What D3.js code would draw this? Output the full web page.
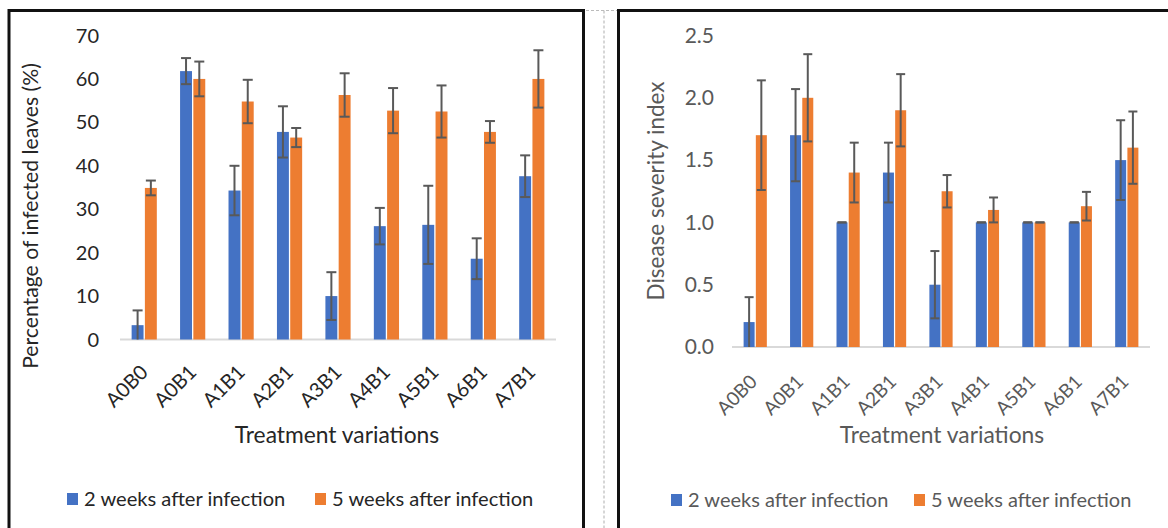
<!DOCTYPE html>
<html><head><meta charset="utf-8">
<script src="https://cdn.jsdelivr.net/npm/d3@7"></script>
<style>body{margin:0;background:#fff}svg{display:block}</style>
</head><body>
<svg id="c" width="1168" height="528"></svg>
<script>
const categories = ["A0B0","A0B1","A1B1","A2B1","A3B1","A4B1","A5B1","A6B1","A7B1"];
const seriesNames = ["2 weeks after infection","5 weeks after infection"];
const colors = ["#4472C4","#ED7D31"];
// Left chart: percentage of infected leaves (%)
const leftWeek2 = [3.3, 61.8, 34.3, 47.8, 10.0, 26.1, 26.4, 18.6, 37.6];
const leftWeek2Err = [3.4, 3.0, 5.7, 5.9, 5.5, 4.2, 9.0, 4.7, 4.8];
const leftWeek5 = [34.9, 60.0, 54.8, 46.5, 56.3, 52.7, 52.5, 47.8, 60.0];
const leftWeek5Err = [1.7, 4.0, 5.0, 2.2, 5.0, 5.2, 6.0, 2.5, 6.6];
const leftTicks = [0,10,20,30,40,50,60,70];
// Right chart: disease severity index
const rightWeek2 = [0.2, 1.7, 1.0, 1.4, 0.5, 1.0, 1.0, 1.0, 1.5];
const rightWeek2Err = [0.2, 0.37, 0, 0.24, 0.27, 0, 0, 0, 0.32];
const rightWeek5 = [1.7, 2.0, 1.4, 1.9, 1.25, 1.1, 1.0, 1.13, 1.6];
const rightWeek5Err = [0.44, 0.35, 0.24, 0.29, 0.13, 0.1, 0, 0.115, 0.29];
const rightTicks = [0,0.5,1.0,1.5,2.0,2.5];

const svg = d3.select("#c");
const FONT = "Lato, 'Open Sans', sans-serif";

// panel frames
svg.append("path").attr("d","M586,10.5H617M604,10.5V528").attr("stroke","#bbb").attr("stroke-width",1.2)
  .attr("stroke-dasharray","3,2").attr("fill","none");
svg.append("path").attr("d","M9,540V10.5H583.5V540").attr("stroke","#111").attr("stroke-width",3).attr("fill","none");
svg.append("path").attr("d","M618.5,540V10.5H1175").attr("stroke","#111").attr("stroke-width",3).attr("fill","none");

function drawChart(o){
  const g = svg.append("g");
  const x0 = d3.scaleBand().domain(categories).range(o.xr).paddingInner(o.pad).paddingOuter(o.pad/2);
  const x1 = d3.scaleBand().domain([0,1]).range([0,x0.bandwidth()]).paddingInner(0.1);
  const y = d3.scaleLinear().domain(o.yd).range(o.yr);
  const data = [o.s1, o.s2], errs = [o.e1, o.e2];
  // y tick labels
  g.selectAll(".yt").data(o.ticks).join("text")
    .attr("x", o.ytx).attr("y", d=>y(d)).attr("dy","0.35em")
    .attr("text-anchor","end").attr("font-family",FONT).attr("font-size",o.yfs)
    .attr("fill",o.tc).text(d=>o.fmt(d));
  // baseline
  g.append("line").attr("x1",o.xr[0]).attr("x2",o.xr[1]).attr("y1",y(0)).attr("y2",y(0))
    .attr("stroke","#d9d9d9").attr("stroke-width",2);
  // bars
  [0,1].forEach(si=>{
    g.selectAll(".b"+si).data(categories).join("rect")
      .attr("x",(c)=>x0(c)+x1(si)).attr("width",x1.bandwidth())
      .attr("y",(c,i)=>y(data[si][i])).attr("height",(c,i)=>y(0)-y(data[si][i]))
      .attr("fill",colors[si]);
  });
  // error bars
  [0,1].forEach(si=>{
    categories.forEach((c,i)=>{
      const cx = x0(c)+x1(si)+x1.bandwidth()/2;
      const v = data[si][i], e = errs[si][i];
      const lo = Math.max(o.yd[0], v-e), hi = v+e;
      const gg = g.append("g").attr("stroke","#595959").attr("stroke-width",2);
      gg.append("line").attr("x1",cx).attr("x2",cx).attr("y1",y(lo)).attr("y2",y(hi));
      gg.append("line").attr("x1",cx-o.cap/2).attr("x2",cx+o.cap/2).attr("y1",y(hi)).attr("y2",y(hi));
      if (v-e > o.yd[0]) gg.append("line").attr("x1",cx-o.cap/2).attr("x2",cx+o.cap/2).attr("y1",y(lo)).attr("y2",y(lo));
    });
  });
  // x tick labels
  g.selectAll(".xt").data(categories).join("text")
    .attr("transform",c=>`translate(${x0(c)+x0.bandwidth()/2+o.lx},${y(0)+o.ly}) rotate(-45)`)
    .attr("text-anchor","end").attr("font-family",FONT).attr("font-size",o.fs)
    .attr("fill",o.tc).text(c=>c);
  // axis titles
  g.append("text").attr("x",o.xtx).attr("y",o.xty).attr("text-anchor","middle")
    .attr("font-family",FONT).attr("font-size",o.tfs).attr("fill",o.tc).text("Treatment variations");
  g.append("text").attr("transform",`translate(${o.ytlx},${o.ytly}) rotate(-90)`).attr("text-anchor","middle")
    .attr("font-family",FONT).attr("font-size",o.ytfs).attr("fill",o.tc).text(o.ytitle);
  // legend
  seriesNames.forEach((n,i)=>{
    g.append("rect").attr("x",o.legx[i]).attr("y",o.legy-6).attr("width",11).attr("height",12).attr("fill",colors[i]);
    g.append("text").attr("x",o.legx[i]+17).attr("y",o.legy).attr("dy","0.35em")
      .attr("font-family",FONT).attr("font-size",o.lfs).attr("fill",o.tc).text(n);
  });
}

drawChart({xr:[120,556], pad:0.48, yd:[0,70], yr:[339.5,35.5], ticks:leftTicks, fmt:d=>d, ytx:99,
  s1:leftWeek2, e1:leftWeek2Err, s2:leftWeek5, e2:leftWeek5Err, cap:10, tc:"#262626", fs:20, yfs:20, tfs:22.8, ytfs:21.2, lfs:20.1,
  lx:5, ly:34, xtx:337, xty:443, ytlx:38, ytly:216, ytitle:"Percentage of infected leaves (%)",
  legx:[67,315], legy:499});
drawChart({xr:[732,1150], pad:0.5, yd:[0,2.5], yr:[347,35.5], ticks:rightTicks, fmt:d=>d3.format(".1f")(d), ytx:714,
  s1:rightWeek2, e1:rightWeek2Err, s2:rightWeek5, e2:rightWeek5Err, cap:9, tc:"#595959", fs:19, yfs:21, tfs:22.8, ytfs:22.5, lfs:20,
  lx:3, ly:36, xtx:942, xty:443, ytlx:664, ytly:191, ytitle:"Disease severity index",
  legx:[671,914], legy:500});
</script>
</body></html>
